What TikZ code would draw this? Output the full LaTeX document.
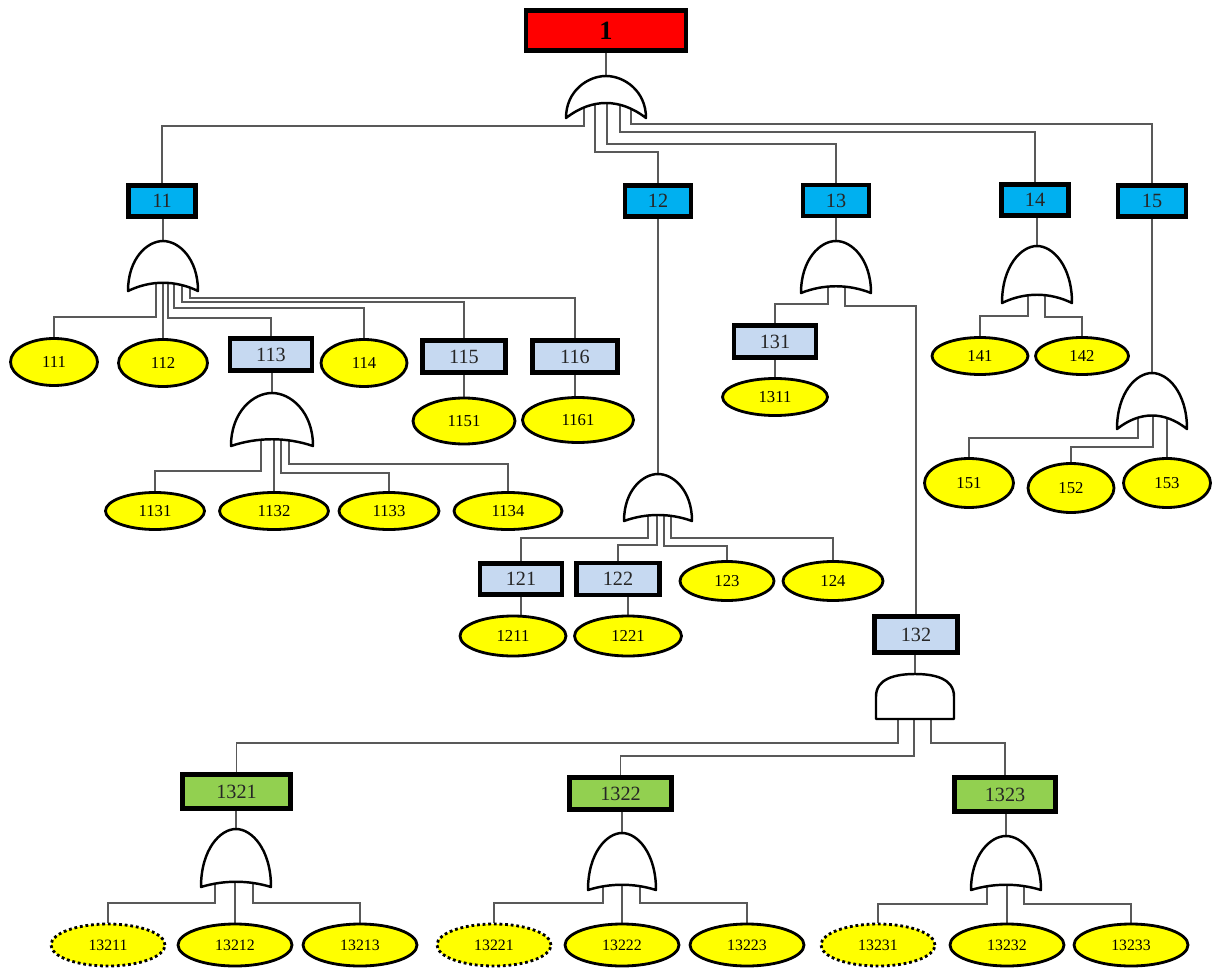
\documentclass[tikz,border=0pt]{standalone}
\usepackage{fontspec}
\setmainfont{Liberation Serif}
\usetikzlibrary{shapes.geometric}
\pgfdeclarelayer{bg}
\pgfsetlayers{bg,main}
\definecolor{cred}{HTML}{FF0000}
\definecolor{cblue}{HTML}{00B0F0}
\definecolor{clight}{HTML}{C6D9F1}
\definecolor{cgreen}{HTML}{92D050}
\definecolor{cyel}{HTML}{FFFF00}
\tikzset{
 conn/.style={draw=black!65, line width=0.6pt},
 gate/.style={draw=black, line width=1.4pt, fill=white, line join=round},
 evt/.style n args={2}{rectangle, draw=black, line width=2.6pt, minimum width=#1*0.02cm, minimum height=#2*0.02cm, inner sep=0pt, text=black!85, font=\fontsize{11.5}{13}\selectfont},
 bev/.style n args={2}{ellipse, draw=black, line width=1.6pt, fill=cyel, minimum width=#1*0.02cm, minimum height=#2*0.02cm, inner sep=0pt, font=\fontsize{9.5}{11}\selectfont},
 lev/.style={bev={114}{42}, font=\fontsize{9}{10}\selectfont},
 undev/.style={dash pattern=on 1.6pt off 1.6pt}
}
\newcommand\orgate[5]{%
 \draw[gate] ({#1-#4},#3) .. controls ({#1-#4},{#2+0.35*(#3-#2)}) and ({#1-0.45*#4},#2) .. (#1,#2)
   .. controls ({#1+0.45*#4},#2) and ({#1+#4},{#2+0.35*(#3-#2)}) .. ({#1+#4},#3)
   .. controls ({#1+0.35*#4},{#3-#5}) and ({#1-0.35*#4},{#3-#5}) .. ({#1-#4},#3) -- cycle;}
\newcommand\andgate[4]{%
 \draw[gate] ({#1-#4},#3) -- ({#1-#4},{#3-0.5*(#3-#2)}) .. controls ({#1-#4},{#2+0.1*(#3-#2)}) and ({#1-0.5*#4},#2) .. (#1,#2)
   .. controls ({#1+0.5*#4},#2) and ({#1+#4},{#2+0.1*(#3-#2)}) .. ({#1+#4},{#3-0.5*(#3-#2)}) -- ({#1+#4},#3) -- cycle;}
\begin{document}
\begin{tikzpicture}[x=0.02cm,y=-0.02cm]
\path[use as bounding box] (0,0) rectangle (1213,969);

% boxes
\node[evt={160}{40}, fill=cred, text=black, font=\fontsize{15}{17}\selectfont\bfseries] (b1) at (606,30.5) {1};
\node[evt={67}{31}, fill=cblue] (b11) at (162,201) {11};
\node[evt={66}{31}, fill=cblue] (b12) at (658,201) {12};
\node[evt={66}{31}, fill=cblue] (b13) at (836,200.5) {13};
\node[evt={67}{31}, fill=cblue] (b14) at (1035,200) {14};
\node[evt={68}{31}, fill=cblue] (b15) at (1152,201) {15};
\node[evt={82}{32}, fill=clight] (b113) at (271,354.5) {113};
\node[evt={83}{32}, fill=clight] (b115) at (464,356.5) {115};
\node[evt={85}{32}, fill=clight] (b116) at (575,356.5) {116};
\node[evt={82}{31}, fill=clight] (b121) at (521,579) {121};
\node[evt={83}{32}, fill=clight] (b122) at (618,579) {122};
\node[evt={82}{32}, fill=clight] (b131) at (775,341.5) {131};
\node[evt={83}{36}, fill=clight] (b132) at (916,634.5) {132};
\node[evt={108}{34}, fill=cgreen] (b1321) at (236.5,791.5) {1321};
\node[evt={102}{32}, fill=cgreen] (b1322) at (620.5,793.5) {1322};
\node[evt={101}{34}, fill=cgreen] (b1323) at (1005,794.5) {1323};

% basic events
\node[bev={87}{47}] (e111) at (54,362) {111};
\node[bev={89}{47}] (e112) at (163,363) {112};
\node[bev={86}{47}] (e114) at (364,363) {114};
\node[bev={99}{37}] (e1131) at (155,511) {1131};
\node[bev={109}{37}] (e1132) at (274,511) {1132};
\node[bev={100}{37}] (e1133) at (389,511) {1133};
\node[bev={108}{37}] (e1134) at (508,511) {1134};
\node[bev={102}{46}] (e1151) at (464,421) {1151};
\node[bev={111}{45}] (e1161) at (578,420) {1161};
\node[bev={105}{37}] (e1311) at (775,397) {1311};
\node[bev={96}{37}] (e141) at (980,356) {141};
\node[bev={93}{37}] (e142) at (1082,356) {142};
\node[bev={89}{49}] (e151) at (969,483) {151};
\node[bev={86}{49}] (e152) at (1071,488) {152};
\node[bev={87}{49}] (e153) at (1167,483) {153};
\node[bev={94}{39}] (e123) at (727,581) {123};
\node[bev={100}{39}] (e124) at (833,581) {124};
\node[bev={106}{40}] (e1211) at (513,636) {1211};
\node[bev={107}{40}] (e1221) at (628,636) {1221};
\node[lev, undev] (e13211) at (108,945) {13211};
\node[lev] (e13212) at (235,945) {13212};
\node[lev] (e13213) at (360,945) {13213};
\node[lev, undev] (e13221) at (494,945) {13221};
\node[lev] (e13222) at (622,945) {13222};
\node[lev] (e13223) at (747,945) {13223};
\node[lev, undev] (e13231) at (878,945) {13231};
\node[lev] (e13232) at (1007,945) {13232};
\node[lev] (e13233) at (1131,945) {13233};

% gate reference points
\coordinate (g1) at (606,95);
\coordinate (g11) at (163,266);
\coordinate (g113) at (272,420);
\coordinate (g12) at (658,498);
\coordinate (g13) at (836,267);
\coordinate (g14) at (1037,275);
\coordinate (g15) at (1152,400);
\coordinate (g132) at (915,697);
\coordinate (g1321) at (236,858);
\coordinate (g1322) at (622,861);
\coordinate (g1323) at (1006,863);

% gates
\orgate{606}{76}{118}{40}{20}
\orgate{163}{241}{291}{35}{11}
\orgate{272}{393}{446}{41}{9}
\orgate{658}{474}{521}{34}{8}
\orgate{836}{241}{293}{35}{9}
\orgate{1037}{246}{303}{35}{11}
\orgate{1152}{373}{429}{35}{18}
\andgate{915}{674}{719}{39}
\orgate{236}{829}{887}{35}{7}
\orgate{622}{833}{890}{34}{7}
\orgate{1006}{836}{890}{35}{7}

\begin{pgfonlayer}{bg}
\fill[white] (0,0) rectangle (1213,969);
% top
\draw[conn] (b1.south) -- (g1);
\draw[conn] (584,0 |- g1) |- (b11.north |- 0,126) -- (b11.north);
\draw[conn] (595,0 |- g1) |- (b12.north |- 0,152) -- (b12.north);
\draw[conn] (607,0 |- g1) |- (b13.north |- 0,144) -- (b13.north);
\draw[conn] (620,0 |- g1) |- (b14.north |- 0,132) -- (b14.north);
\draw[conn] (631,0 |- g1) |- (b15.north |- 0,124) -- (b15.north);
% 11
\draw[conn] (b11.south -| g11) -- (g11);
\draw[conn] (156,0 |- g11) |- (e111.north |- 0,317) -- (e111.north);
\draw[conn] (e112.north |- g11) -- (e112.north);
\draw[conn] (168,0 |- g11) |- (b113.north |- 0,318) -- (b113.north);
\draw[conn] (174,0 |- g11) |- (e114.north |- 0,308) -- (e114.north);
\draw[conn] (182,0 |- g11) |- (b115.north |- 0,302) -- (b115.north);
\draw[conn] (190,0 |- g11) |- (b116.north |- 0,298) -- (b116.north);
% 113
\draw[conn] (b113.south -| g113) -- (g113);
\draw[conn] (261,0 |- g113) |- (e1131.north |- 0,471) -- (e1131.north);
\draw[conn] (e1132.north |- g113) -- (e1132.north);
\draw[conn] (281,0 |- g113) |- (e1133.north |- 0,473) -- (e1133.north);
\draw[conn] (289,0 |- g113) |- (e1134.north |- 0,464) -- (e1134.north);
\draw[conn] (b115.south) -- (e1151.north);
\draw[conn] (b116.south) -- (b116.south |- e1161.north);
% 12
\draw[conn] (b12.south) -- (g12);
\draw[conn] (648,0 |- g12) |- (b121.north |- 0,538) -- (b121.north);
\draw[conn] (657,0 |- g12) |- (b122.north |- 0,545) -- (b122.north);
\draw[conn] (664,0 |- g12) |- (e123.north |- 0,546) -- (e123.north);
\draw[conn] (671,0 |- g12) |- (e124.north |- 0,538) -- (e124.north);
\draw[conn] (b121.south) -- (b121.south |- e1211.north);
\draw[conn] (e1221.north |- b122.south) -- (e1221.north);
% 13
\draw[conn] (b13.south) -- (g13);
\draw[conn] (828,0 |- g13) |- (b131.north |- 0,304) -- (b131.north);
\draw[conn] (845,0 |- g13) |- (b132.north |- 0,306) -- (b132.north);
\draw[conn] (b131.south) -- (e1311.north);
% 14
\draw[conn] (b14.south -| g14) -- (g14);
\draw[conn] (1028,0 |- g14) |- (e141.north |- 0,316) -- (e141.north);
\draw[conn] (1045,0 |- g14) |- (e142.north |- 0,317) -- (e142.north);
% 15
\draw[conn] (b15.south) -- (g15);
\draw[conn] (1138,0 |- g15) |- (e151.north |- 0,438) -- (e151.north);
\draw[conn] (1153,0 |- g15) |- (e152.north |- 0,447) -- (e152.north);
\draw[conn] (e153.north |- g15) -- (e153.north);
% 132
\draw[conn] (b132.south -| g132) -- (g132);
\draw[conn] (898,0 |- g132) |- (b1321.north |- 0,743) -- (b1321.north);
\draw[conn] (914,0 |- g132) |- (b1322.north |- 0,756) -- (b1322.north);
\draw[conn] (931,0 |- g132) |- (b1323.north |- 0,743) -- (b1323.north);
% 1321
\draw[conn] (b1321.south -| g1321) -- (g1321);
\draw[conn] (215,0 |- g1321) |- (e13211.north |- 0,903) -- (e13211.north);
\draw[conn] (e13212.north |- g1321) -- (e13212.north);
\draw[conn] (253,0 |- g1321) |- (e13213.north |- 0,903) -- (e13213.north);
% 1322
\draw[conn] (b1322.south -| g1322) -- (g1322);
\draw[conn] (603,0 |- g1322) |- (e13221.north |- 0,903) -- (e13221.north);
\draw[conn] (e13222.north |- g1322) -- (e13222.north);
\draw[conn] (640,0 |- g1322) |- (e13223.north |- 0,903) -- (e13223.north);
% 1323
\draw[conn] (b1323.south -| g1323) -- (g1323);
\draw[conn] (987,0 |- g1323) |- (e13231.north |- 0,904) -- (e13231.north);
\draw[conn] (e13232.north |- g1323) -- (e13232.north);
\draw[conn] (1024,0 |- g1323) |- (e13233.north |- 0,904) -- (e13233.north);
\end{pgfonlayer}
\end{tikzpicture}
\end{document}
